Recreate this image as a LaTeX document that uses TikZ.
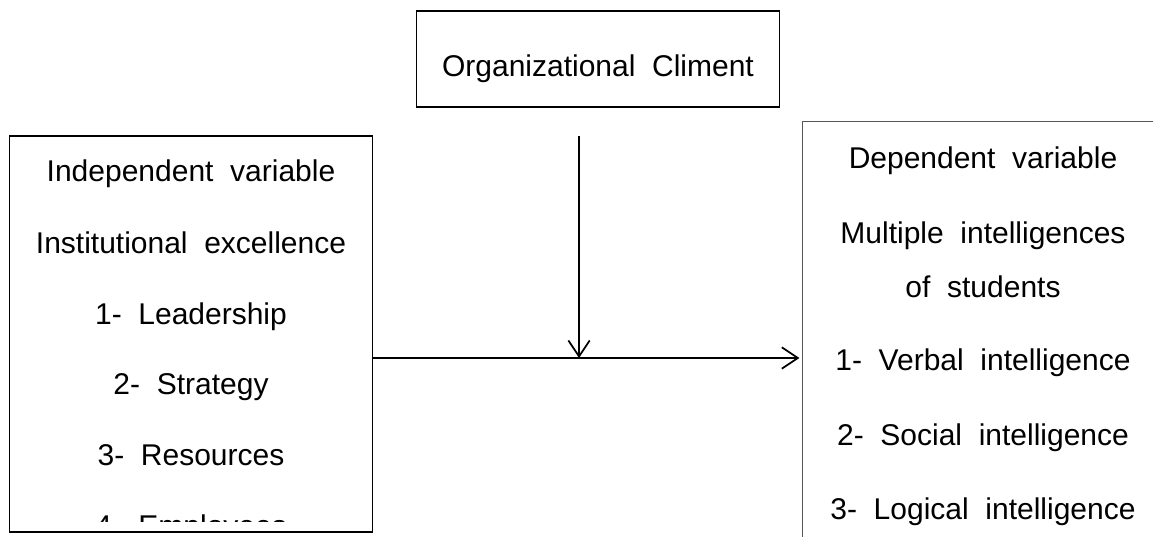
\documentclass[tikz,border=0pt]{standalone}
\usepackage{fontspec}
\setmainfont{Liberation Sans}[WordSpace=2]
\usepackage{xcolor}
\usetikzlibrary{arrows.meta,positioning}

\definecolor{edgegray}{HTML}{555555}

\begin{document}
\begin{tikzpicture}[x=0.75pt, y=-0.75pt,
    box/.style={rectangle, draw, line width=0.9pt, inner sep=0pt},
    line/.style={anchor=base, font=\fontsize{22.5pt}{27pt}\selectfont},
    flow/.style={-{Straight Barb[length=12pt,width=16pt,line width=1.3pt]}, line width=1.5pt}]
    \useasboundingbox (0,0) rectangle (1153,536);
    \clip (0,0) rectangle (1153,536);
    % boxes
    \node[box, minimum width=272pt, minimum height=72pt] (climate) at (598,59) {};
    \node[box, minimum width=272pt, minimum height=297pt] (indep) at (191,334) {};
    \node[box, draw=edgegray, minimum width=272pt, minimum height=329pt] (dep) at (984,340.5) {};
    \node[line] (climtxt) at (598,76) {Organizational Climent};
    % left box text (last line is cut by the box)
    \begin{scope}
        \clip (indep.north west) rectangle ([yshift=8pt]indep.south east);
        \node[line] (iv) at (191,181) {Independent variable};
        \node[line] (ie) at (191,253) {Institutional excellence};
        \node[line] (lead) at (191,324) {1- Leadership};
        \node[line] (strat) at (191,394) {2- Strategy};
        \node[line] (res) at (191,465) {3- Resources};
        \node[line] (emp) at (191,536) {4- Employees};
    \end{scope}
    % right box text
    \node[line] (dv) at (983,168) {Dependent variable};
    \node[line] (mi) at (983,243) {Multiple intelligences};
    \node[line] (stud) at (983,297) {of students};
    \node[line] (verb) at (983,370) {1- Verbal intelligence};
    \node[line] (soc) at (983,445) {2- Social intelligence};
    \node[line] (logi) at (983,519) {3- Logical intelligence};
    % arrows
    \coordinate (drop) at (579,136);
    \coordinate (mid) at (579,358);
    \draw[flow] (drop) -- (mid);
    \draw[flow] (indep.east |- mid) -- ([xshift=-2pt]dep.west |- mid);
\end{tikzpicture}
\end{document}
